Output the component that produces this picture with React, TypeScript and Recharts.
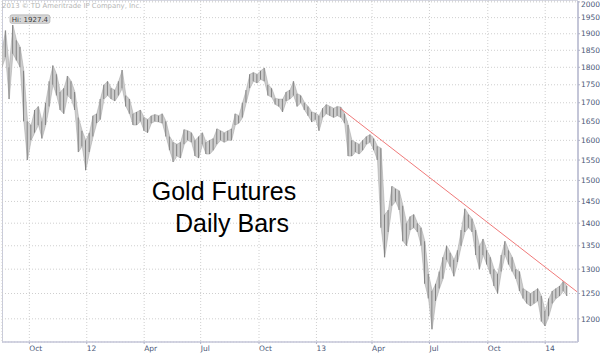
import React from 'react'
import { ComposedChart, Area, Bar, XAxis, YAxis, CartesianGrid, ReferenceLine, ReferenceDot } from 'recharts'

// gold futures, one bar per 4 trading days from mid Aug 2011 to early Feb 2014
const highs = [
  1850, 1910, 1800, 1927, 1880, 1860, 1790, 1650, 1640, 1680,
  1690, 1650, 1700, 1760, 1805, 1780, 1730, 1740, 1775, 1760,
  1730, 1660, 1625, 1600, 1620, 1665, 1670, 1710, 1750, 1760,
  1740, 1735, 1760, 1792, 1720, 1710, 1670, 1675, 1680, 1660,
  1655, 1665, 1668, 1665, 1670, 1650, 1610, 1595, 1590, 1595,
  1628, 1625, 1620, 1600, 1610, 1620, 1595, 1600, 1605, 1630,
  1625, 1620, 1625, 1630, 1670, 1665, 1700, 1735, 1780, 1785,
  1780, 1790, 1798, 1750, 1740, 1712, 1710, 1710, 1730, 1735,
  1760, 1725, 1720, 1700, 1690, 1675, 1672, 1665, 1685, 1695,
  1690, 1685, 1690, 1688, 1670, 1640, 1600, 1595, 1590, 1600,
  1610, 1615, 1605, 1585, 1580, 1420, 1430, 1486, 1480, 1475,
  1440, 1400, 1415, 1420, 1400, 1390, 1360, 1290, 1255, 1270,
  1295, 1325, 1350, 1335, 1320, 1340, 1385, 1433, 1420, 1410,
  1385, 1350, 1365, 1340, 1325, 1300, 1290, 1330, 1360, 1340,
  1325, 1300, 1295, 1260, 1255, 1250, 1255, 1260, 1245, 1215,
  1240, 1255, 1260, 1265, 1275, 1265,
]
const lows = [
  1800, 1830, 1710, 1840, 1820, 1800, 1650, 1550, 1600, 1620,
  1640, 1605, 1640, 1690, 1750, 1720, 1680, 1670, 1720, 1710,
  1680, 1570, 1585, 1525, 1570, 1610, 1645, 1655, 1710, 1720,
  1710, 1705, 1720, 1740, 1690, 1670, 1640, 1640, 1650, 1625,
  1620, 1645, 1650, 1648, 1645, 1610, 1575, 1545, 1560, 1555,
  1590, 1600, 1595, 1560, 1555, 1590, 1565, 1565, 1575, 1590,
  1600, 1595, 1600, 1600, 1640, 1645, 1660, 1700, 1740, 1760,
  1755, 1765, 1760, 1720, 1715, 1695, 1690, 1675, 1705, 1710,
  1720, 1690, 1700, 1680, 1665, 1648, 1655, 1625, 1660, 1670,
  1665, 1660, 1665, 1660, 1645, 1560, 1560, 1570, 1565, 1575,
  1590, 1595, 1575, 1550, 1390, 1325, 1380, 1440, 1450, 1430,
  1360, 1350, 1385, 1390, 1380, 1350, 1270, 1240, 1180, 1235,
  1260, 1280, 1320, 1305, 1285, 1315, 1350, 1380, 1390, 1380,
  1330, 1300, 1330, 1310, 1290, 1265, 1250, 1295, 1330, 1310,
  1295, 1280, 1255, 1240, 1230, 1225, 1230, 1235, 1195, 1186,
  1205, 1230, 1240, 1245, 1255, 1245,
]
const step = 4

const tickDays = [30, 93, 156, 218, 282, 345, 406, 469, 533, 596]
const tickLabels = ['Oct', '12', 'Apr', 'Jul', 'Oct', '13', 'Apr', 'Jul', 'Oct', '14']
const priceTicks = [1200, 1250, 1300, 1350, 1400, 1450, 1500, 1550, 1600, 1650, 1700, 1750, 1800, 1850, 1900, 1950, 2000]

const hiDay = 12
const hiPrice = 1927.4
const trendDays = [371, 632]
const trendPrices = [1685, 1252]

const data = highs.map((h, i) => ({ day: i * step, range: [lows[i], h] }))

const axisFont = '"DejaVu Sans", Verdana, sans-serif'

function XTick({ x, y, payload }: any) {
  const idx = tickDays.indexOf(payload.value)
  return (
    <text x={x} y={y} dy={5} textAnchor="start" fontFamily={axisFont} fontSize={7.5} fill="#4b5878">
      {tickLabels[idx]}
    </text>
  )
}

function YTick({ x, y, payload }: any) {
  // keep the top label inside the frame
  const base = Math.max(y + 2.7, 6.6)
  return (
    <text x={x} y={base} textAnchor="start" fontFamily={axisFont} fontSize={7.5} fill="#4b5878">
      {payload.value}
    </text>
  )
}

function HiTag({ cx, cy }: any) {
  return (
    <g>
      <rect x={cx - 3} y={cy - 10} width={40} height={8.5} rx={2} fill="#d6d6d6" stroke="#a3a3a3" strokeWidth={0.6} />
      <text x={cx + 17} y={cy - 3.3} textAnchor="middle" fontFamily={axisFont} fontSize={7} fill="#3a3a3a">
        Hi: {hiPrice}
      </text>
    </g>
  )
}

export default function App() {
  return (
    <div style={{ position: 'absolute', left: 0, top: 0, width: 600, height: 354, background: '#fff' }}>
      <div style={{ position: 'absolute', left: 2, top: 0, width: 576, height: 342, borderLeft: '1px solid #c9cbdb', borderTop: '1px solid #d6d8e4', boxSizing: 'border-box' }} />
      <ComposedChart width={600} height={354} data={data} margin={{ top: 1, right: 0, bottom: 0, left: 2 }}>
        <CartesianGrid stroke="#cfcfcf" strokeDasharray="1 2" />
        <XAxis
          type="number" dataKey="day"
          domain={[0, 632]} allowDataOverflow
          ticks={tickDays} interval={0}
          height={12} tickSize={2} tickMargin={2}
          axisLine={{ stroke: '#c4c6d8', strokeWidth: 1.5 }}
          tickLine={{ stroke: '#b0b3c8' }}
          tick={<XTick />}
        />
        <YAxis
          orientation="right" scale="log"
          domain={[1156, 2003]} allowDataOverflow
          ticks={priceTicks} interval={0}
          width={22} tickSize={2} tickMargin={1}
          axisLine={{ stroke: '#c4c6d8', strokeWidth: 2 }}
          tickLine={{ stroke: '#b0b3c8' }}
          tick={<YTick />}
        />
        <Area dataKey="range" type="linear" fill="#cdcdcd" fillOpacity={1} stroke="#a2a2a2" strokeWidth={0.5} isAnimationActive={false} />
        <Bar dataKey="range" barSize={1} fill="#828282" isAnimationActive={false} />
        <ReferenceLine
          segment={[{ x: trendDays[0], y: trendPrices[0] }, { x: trendDays[1], y: trendPrices[1] }]}
          stroke="#f07a7a" strokeWidth={1} ifOverflow="visible"
        />
        <ReferenceDot x={hiDay} y={hiPrice} r={0} shape={<HiTag />} ifOverflow="visible" />
      </ComposedChart>
      <div style={{ position: 'absolute', left: 2, top: 2, fontFamily: axisFont, fontSize: 6.9, color: '#b5b5b5', whiteSpace: 'nowrap' }}>
        2013 © TD Ameritrade IP Company, Inc.
      </div>
      <div style={{ position: 'absolute', left: 124, top: 175, width: 200, textAlign: 'center', fontFamily: '"Liberation Sans", Arial, sans-serif', fontSize: 25, lineHeight: '32px', color: '#000', whiteSpace: 'nowrap' }}>
        Gold Futures
      </div>
      <div style={{ position: 'absolute', left: 132, top: 207, width: 200, textAlign: 'center', fontFamily: '"Liberation Sans", Arial, sans-serif', fontSize: 25, lineHeight: '32px', color: '#000', whiteSpace: 'nowrap' }}>
        Daily Bars
      </div>
    </div>
  )
}
